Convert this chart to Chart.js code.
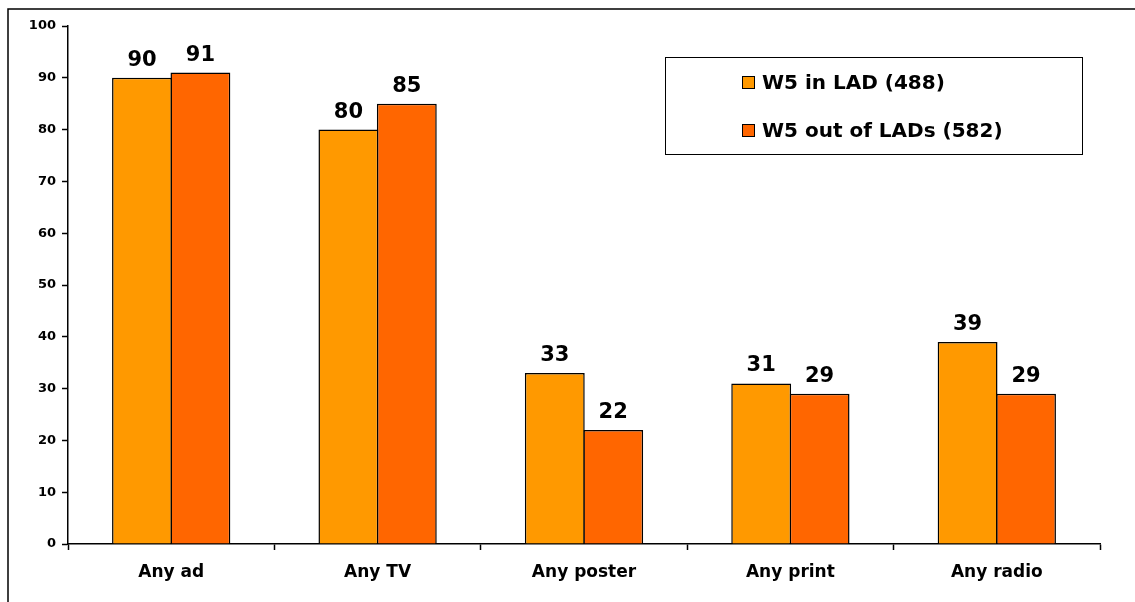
<!DOCTYPE html>
<html>
<head>
<meta charset="utf-8">
<title>Advertising recall</title>
<script src="https://cdn.jsdelivr.net/npm/chart.js@4.4.1/dist/chart.umd.min.js"></script>
<style>
  html, body { margin: 0; padding: 0; background: #fff; overflow: hidden; }
  #wrap { width: 1135px; height: 602px; }
</style>
</head>
<body>
<div id="wrap"><canvas id="c" width="1135" height="602"></canvas></div>
<script>
const categories = ['Any ad', 'Any TV', 'Any poster', 'Any print', 'Any radio'];
const seriesNames = ['W5 in LAD (488)', 'W5 out of LADs (582)'];
const inLad = [90, 80, 33, 31, 39];
const outOfLads = [91, 85, 22, 29, 29];
const yTicks = [0, 10, 20, 30, 40, 50, 60, 70, 80, 90, 100];

const FONT = '"DejaVu Sans", Verdana, sans-serif';

// Value labels above each bar
const valueLabels = {
  id: 'valueLabels',
  afterDatasetsDraw(chart) {
    const ctx = chart.ctx;
    ctx.save();
    ctx.font = 'bold 21px ' + FONT;
    ctx.fillStyle = '#000';
    ctx.textAlign = 'center';
    ctx.textBaseline = 'alphabetic';
    chart.data.datasets.forEach((ds, i) => {
      chart.getDatasetMeta(i).data.forEach((bar, j) => {
        ctx.fillText(String(ds.data[j]), bar.x, bar.y - 12);
      });
    });
    ctx.restore();
  }
};

// Boxed legend in the upper right and the outer frame lines
const boxLegend = {
  id: 'boxLegend',
  afterDraw(chart) {
    const ctx = chart.ctx;
    ctx.save();
    // outer frame (top and left edges)
    ctx.strokeStyle = '#000';
    ctx.lineWidth = 1.5;
    ctx.beginPath();
    ctx.moveTo(8, 602);
    ctx.lineTo(8, 9);
    ctx.lineTo(1135, 9);
    ctx.stroke();

    // legend box
    ctx.lineWidth = 1;
    ctx.strokeStyle = '#000';
    ctx.fillStyle = '#fff';
    ctx.fillRect(665.5, 57.5, 417, 97);
    ctx.strokeRect(665.5, 57.5, 417, 97);

    ctx.font = 'bold 20px ' + FONT;
    ctx.textAlign = 'left';
    ctx.textBaseline = 'middle';
    const rowY = [83, 131];
    chart.data.datasets.forEach((ds, i) => {
      const y = rowY[i];
      ctx.fillStyle = ds.backgroundColor;
      ctx.fillRect(742.5, y - 6.5, 12, 12);
      ctx.strokeRect(742.5, y - 6.5, 12, 12);
      ctx.fillStyle = '#000';
      ctx.fillText(ds.label, 762, y + 1);
    });
    ctx.restore();
  }
};

new Chart(document.getElementById('c'), {
  type: 'bar',
  data: {
    labels: categories,
    datasets: [
      { label: seriesNames[0], data: inLad, backgroundColor: '#FF9900', borderColor: '#000', borderWidth: 1.5 },
      { label: seriesNames[1], data: outOfLads, backgroundColor: '#FF6600', borderColor: '#000', borderWidth: 1.5 }
    ]
  },
  options: {
    responsive: false,
    devicePixelRatio: 1,
    animation: false,
    layout: { padding: { top: 26, right: 35, left: 0, bottom: 0 } },
    plugins: {
      legend: { display: false },
      tooltip: { enabled: false }
    },
    datasets: {
      // bars in a pair overlap slightly so they share one edge line
      bar: { categoryPercentage: 0.566, barPercentage: 1.025 }
    },
    scales: {
      x: {
        offset: true,
        grid: { offset: true, drawOnChartArea: false, tickLength: 6, tickColor: '#000', tickWidth: 1.5 },
        border: { color: '#000', width: 1.5 },
        ticks: { color: '#000', font: { family: FONT, size: 17, weight: 'bold' }, padding: 12, maxRotation: 0 },
        afterFit(scale) { scale.height = 58; }
      },
      y: {
        min: 0,
        max: 100,
        afterBuildTicks(scale) { scale.ticks = yTicks.map(v => ({ value: v })); },
        grid: { drawOnChartArea: false, tickLength: 6, tickColor: '#000', tickWidth: 1.5 },
        border: { color: '#000', width: 1.5 },
        ticks: { color: '#000', font: { family: FONT, size: 13, weight: 'bold' }, padding: 6 },
        afterFit(scale) { scale.width = 68; }
      }
    }
  },
  plugins: [valueLabels, boxLegend]
});
</script>
</body>
</html>
